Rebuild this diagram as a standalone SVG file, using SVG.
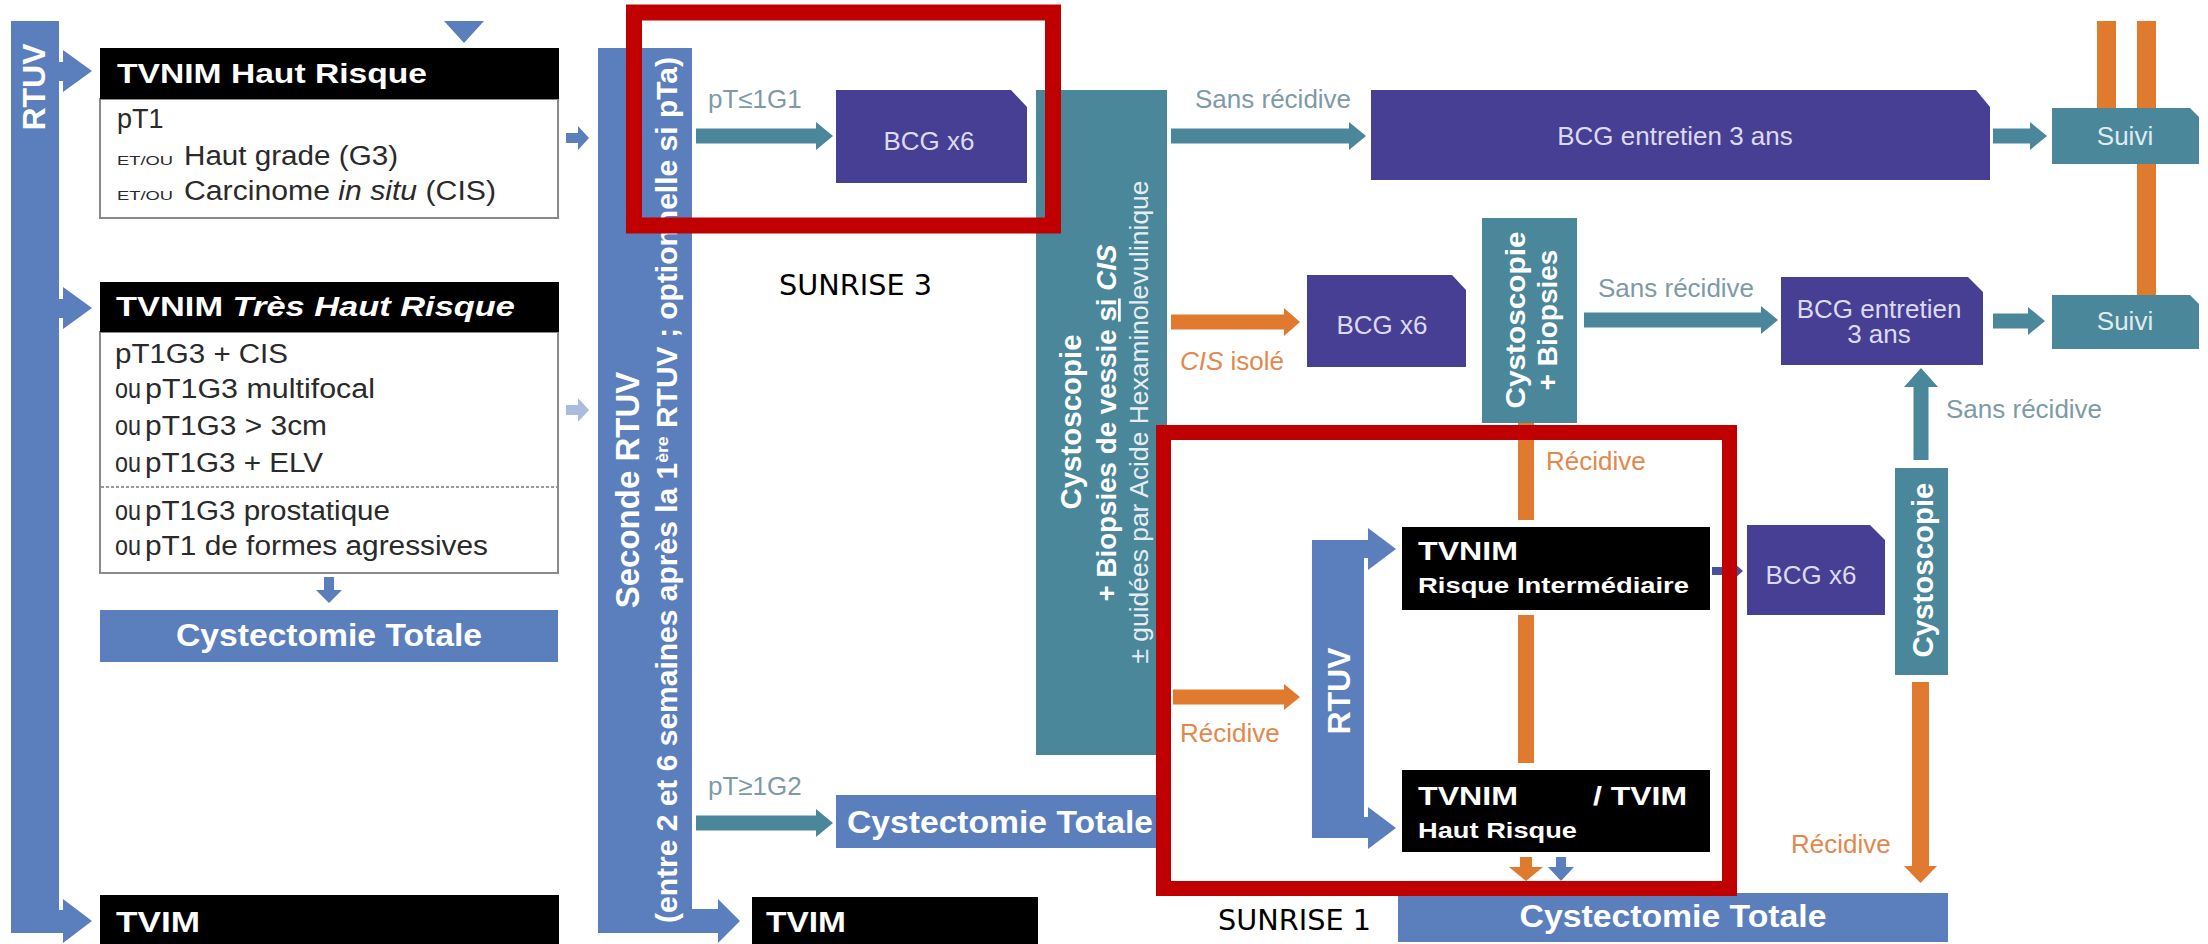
<svg xmlns="http://www.w3.org/2000/svg" width="2208" height="944" viewBox="0 0 2208 944">
<style>
.t{font-family:"Liberation Sans",Arial,sans-serif}
.blue{fill:#5b7fbd}
.lblue{fill:#aabbde}
.teal{fill:#4a879b}
.ind{fill:#463f93}
.org{fill:#df7a2e}
.blk{fill:#000}
.wb{fill:#fff;font-weight:bold}
.lav{fill:#dcd9f2;font-size:26px;text-anchor:middle}
.sv{fill:#dfecef;font-size:26px;text-anchor:middle}
.lbl{fill:#7e9aa6;font-size:26px}
.olbl{fill:#e3884c;font-size:26px}
.body{fill:#2a2a2a;font-size:27px}
.sm{fill:#2a2a2a;font-size:13px}
.frame{fill:#fff;stroke:#8a8a8a;stroke-width:2}
.red{fill:none;stroke:#c00000}
.sun{font-family:"DejaVu Sans","Liberation Sans",sans-serif;font-size:29px;fill:#000}
</style>
<rect width="2208" height="944" fill="#fff"/>

<g id="connectors">
  <path class="blue" d="M444,21 H484 L464,43 Z"/>
  <path class="blue" d="M566,133 H578 V126 L589,138 L578,150 V143 H566 Z"/>
  <path class="lblue" d="M566,405 H578 V398 L589,410 L578,422 V415 H566 Z"/>
  <path class="blue" d="M324,577 V590 H316 L329,603 L342,590 H334 V577 Z"/>
  <path class="teal" d="M696,128.5 H816 V122 L833,136 L816,150 V143.5 H696 Z"/>
  <path class="teal" d="M696,815.5 H816 V809 L833,823 L816,837 V830.5 H696 Z"/>
  <path class="teal" d="M1171,128.5 H1349 V122 L1366,136 L1349,150 V143.5 H1171 Z"/>
  <path class="teal" d="M1993,128.5 H2030 V122 L2047,136 L2030,150 V143.5 H1993 Z"/>
  <path class="teal" d="M1584,312.5 H1761 V306 L1778,320 L1761,334 V327.5 H1584 Z"/>
  <path class="teal" d="M1993,313.5 H2028 V307 L2045,321 L2028,335 V328.5 H1993 Z"/>
  <path class="teal" d="M1913.5,460 V387 H1904 L1921,368 L1938,387 H1928.5 V460 Z"/>
  <path class="org" d="M1171,314.5 H1284 V308 L1300,322 L1284,336 V329.5 H1171 Z"/>
  <path class="org" d="M1173,689.5 H1284 V684 L1300,697 L1284,710 V704.5 H1173 Z"/>
  <path class="org" d="M1912,682 V866 H1904 L1920.5,883 L1937,866 H1929 V682 Z"/>
  <rect class="org" x="1518" y="423" width="16" height="97"/>
  <rect class="org" x="1518" y="615" width="16" height="148"/>
  <rect class="org" x="2097" y="21" width="19" height="87"/>
  <rect class="org" x="2137" y="21" width="19" height="87"/>
  <rect class="org" x="2137" y="164" width="19" height="131"/>
  <path class="org" d="M1520,857 V867 H1509 L1526,881 L1543,867 H1532 V857 Z"/>
  <path class="blue" d="M1556,857 V867 H1548 L1561,881 L1574,867 H1566 V857 Z"/>
  <path fill="#4a50a0" d="M1712,567 H1733 V562 L1743,571 L1733,580 V575 H1712 Z"/>
  <text class="t lbl" x="708" y="108">pT≤1G1</text>
  <text class="t lbl" x="708" y="795">pT≥1G2</text>
  <text class="t lbl" x="1195" y="108">Sans récidive</text>
  <text class="t lbl" x="1598" y="297">Sans récidive</text>
  <text class="t lbl" x="1946" y="418">Sans récidive</text>
  <text class="t olbl" x="1180" y="370"><tspan font-style="italic">CIS</tspan> isolé</text>
  <text class="t olbl" x="1546" y="470">Récidive</text>
  <text class="t olbl" x="1180" y="742">Récidive</text>
  <text class="t olbl" x="1791" y="853">Récidive</text>
</g>

<g id="rtuv-left">
  <path class="blue" d="M11,21 H59 V62 H63 V50 L92,71 L63,92 V81 H59 V299 H63 V287 L92,308 L63,329 V318 H59 V910 H63 V899 L92,921 L63,943 V933 H11 Z"/>
  <text class="t wb" font-size="32" text-anchor="middle" transform="translate(45,87) rotate(-90)">RTUV</text>
</g>

<g id="tvnim-haut-risque">
  <rect class="frame" x="100" y="99" width="458" height="119"/>
  <rect class="blk" x="100" y="48" width="459" height="51"/>
  <text class="t wb" font-size="28" x="117" y="83" textLength="310" lengthAdjust="spacingAndGlyphs">TVNIM Haut Risque</text>
  <text class="t body" x="117" y="128">pT1</text>
  <text class="t sm" x="117" y="165" textLength="56" lengthAdjust="spacingAndGlyphs">ET/OU</text>
  <text class="t body" x="184" y="165" textLength="214" lengthAdjust="spacingAndGlyphs">Haut grade (G3)</text>
  <text class="t sm" x="117" y="200" textLength="56" lengthAdjust="spacingAndGlyphs">ET/OU</text>
  <text class="t body" x="184" y="200" textLength="312" lengthAdjust="spacingAndGlyphs">Carcinome <tspan font-style="italic">in situ</tspan> (CIS)</text>
</g>

<g id="tvnim-tres-haut-risque">
  <rect class="frame" x="100" y="332" width="458" height="241"/>
  <rect class="blk" x="100" y="282" width="459" height="50"/>
  <text class="t wb" font-size="28" x="116" y="316" textLength="399" lengthAdjust="spacingAndGlyphs">TVNIM <tspan font-style="italic">Très Haut Risque</tspan></text>
  <text class="t body" x="115" y="363" textLength="173" lengthAdjust="spacingAndGlyphs">pT1G3 + CIS</text>
  <text class="t body" font-size="17" x="115" y="398" textLength="26" lengthAdjust="spacingAndGlyphs">ou</text>
  <text class="t body" x="145" y="398" textLength="230" lengthAdjust="spacingAndGlyphs">pT1G3 multifocal</text>
  <text class="t body" font-size="17" x="115" y="435" textLength="26" lengthAdjust="spacingAndGlyphs">ou</text>
  <text class="t body" x="145" y="435" textLength="182" lengthAdjust="spacingAndGlyphs">pT1G3 &gt; 3cm</text>
  <text class="t body" font-size="17" x="115" y="472" textLength="26" lengthAdjust="spacingAndGlyphs">ou</text>
  <text class="t body" x="145" y="472" textLength="178" lengthAdjust="spacingAndGlyphs">pT1G3 + ELV</text>
  <line x1="101" y1="487" x2="557" y2="487" stroke="#9a9a9a" stroke-width="2" stroke-dasharray="3 2"/>
  <text class="t body" font-size="17" x="115" y="520" textLength="26" lengthAdjust="spacingAndGlyphs">ou</text>
  <text class="t body" x="145" y="520" textLength="245" lengthAdjust="spacingAndGlyphs">pT1G3 prostatique</text>
  <text class="t body" font-size="17" x="115" y="555" textLength="26" lengthAdjust="spacingAndGlyphs">ou</text>
  <text class="t body" x="145" y="555" textLength="343" lengthAdjust="spacingAndGlyphs">pT1 de formes agressives</text>
</g>

<g id="cystectomie-left">
  <rect class="blue" x="100" y="610" width="458" height="52"/>
  <text class="t wb" font-size="32" x="329" y="646" text-anchor="middle" textLength="306" lengthAdjust="spacingAndGlyphs">Cystectomie Totale</text>
</g>

<g id="tvim-left">
  <rect class="blk" x="100" y="895" width="459" height="55"/>
  <text class="t wb" font-size="29" x="116" y="932" textLength="84" lengthAdjust="spacingAndGlyphs">TVIM</text>
</g>

<g id="seconde-rtuv">
  <path class="blue" d="M598,48 H692 V909 H718 V899 L740,921 L718,943 V933 H598 Z"/>
  <text class="t wb" font-size="33" text-anchor="middle" transform="translate(639,490) rotate(-90)">Seconde RTUV</text>
  <text class="t wb" font-size="29" text-anchor="middle" transform="translate(677,490) rotate(-90)" textLength="866" lengthAdjust="spacingAndGlyphs">(entre 2 et 6 semaines après la 1<tspan font-size="17" baseline-shift="super">ère</tspan> RTUV ; optionnelle si pTa)</text>
</g>

<g id="bcg-x6-a">
  <path class="ind" d="M836,90 H1011 L1027,107 V183 H836 Z"/>
  <text class="t lav" x="929" y="150">BCG x6</text>
</g>

<g id="cystoscopie-biopsies">
  <rect class="teal" x="1036" y="90" width="131" height="665"/>
  <text class="t wb" font-size="30" text-anchor="middle" transform="translate(1081,422) rotate(-90)" textLength="175" lengthAdjust="spacingAndGlyphs">Cystoscopie</text>
  <text class="t wb" font-size="27.5" text-anchor="middle" transform="translate(1116,423) rotate(-90)" textLength="357" lengthAdjust="spacingAndGlyphs">+ Biopsies de vessie <tspan text-decoration="underline">si</tspan> <tspan font-style="italic">CIS</tspan></text>
  <text class="t" fill="#e6eef1" font-size="25" text-anchor="middle" transform="translate(1148,422) rotate(-90)" textLength="483" lengthAdjust="spacingAndGlyphs">± guidées par Acide Hexaminolevulinique</text>
</g>

<g id="cystectomie-mid">
  <rect class="blue" x="836" y="795" width="324" height="53"/>
  <text class="t wb" font-size="32" x="1000" y="833" text-anchor="middle" textLength="306" lengthAdjust="spacingAndGlyphs">Cystectomie Totale</text>
</g>

<g id="tvim-mid">
  <rect class="blk" x="752" y="897" width="286" height="55"/>
  <text class="t wb" font-size="29" x="766" y="932" textLength="80" lengthAdjust="spacingAndGlyphs">TVIM</text>
</g>

<g id="bcg-entretien-a">
  <path class="ind" d="M1371,90 H1976 L1990,107 V180 H1371 Z"/>
  <text class="t lav" x="1675" y="145">BCG entretien 3 ans</text>
</g>

<g id="suivi-a">
  <path class="teal" d="M2052,108 H2190 L2199,117 V164 H2052 Z"/>
  <text class="t sv" x="2125" y="145">Suivi</text>
</g>

<g id="bcg-x6-b">
  <path class="ind" d="M1307,275 H1452 L1466,290 V367 H1307 Z"/>
  <text class="t lav" x="1382" y="334">BCG x6</text>
</g>

<g id="cystoscopie-biopsies-b">
  <rect class="teal" x="1482" y="218" width="95" height="205"/>
  <text class="t wb" font-size="28" text-anchor="middle" transform="translate(1525,320) rotate(-90)" textLength="177" lengthAdjust="spacingAndGlyphs">Cystoscopie</text>
  <text class="t wb" font-size="28" text-anchor="middle" transform="translate(1557,320) rotate(-90)">+ Biopsies</text>
</g>

<g id="bcg-entretien-b">
  <path class="ind" d="M1781,277 H1968 L1983,292 V365 H1781 Z"/>
  <text class="t lav" x="1879" y="318">BCG entretien</text>
  <text class="t lav" x="1879" y="343">3 ans</text>
</g>

<g id="suivi-b">
  <path class="teal" d="M2052,295 H2190 L2199,304 V349 H2052 Z"/>
  <text class="t sv" x="2125" y="330">Suivi</text>
</g>

<g id="cystoscopie-right">
  <rect class="teal" x="1895" y="468" width="53" height="207"/>
  <text class="t wb" font-size="29" text-anchor="middle" transform="translate(1933,570) rotate(-90)" textLength="175" lengthAdjust="spacingAndGlyphs">Cystoscopie</text>
</g>

<g id="bcg-x6-c">
  <path class="ind" d="M1747,525 H1870 L1885,540 V615 H1747 Z"/>
  <text class="t lav" x="1811" y="584">BCG x6</text>
</g>

<g id="rtuv-small">
  <path class="blue" d="M1312,540 H1368 V528 L1396,549 L1368,570 V558 H1364 V817 H1368 V807 L1396,828 L1368,849 V838 H1312 Z"/>
  <text class="t wb" font-size="32" text-anchor="middle" transform="translate(1350,691) rotate(-90)">RTUV</text>
</g>

<g id="tvnim-risque-intermediaire">
  <rect class="blk" x="1402" y="527" width="308" height="83"/>
  <text class="t wb" font-size="25" x="1418" y="560" textLength="100" lengthAdjust="spacingAndGlyphs">TVNIM</text>
  <text class="t wb" font-size="22" x="1418" y="593" textLength="271" lengthAdjust="spacingAndGlyphs">Risque Intermédiaire</text>
</g>

<g id="tvnim-tvim-haut-risque">
  <rect class="blk" x="1402" y="770" width="308" height="82"/>
  <text class="t wb" font-size="25" x="1418" y="805" textLength="100" lengthAdjust="spacingAndGlyphs">TVNIM</text>
  <text class="t wb" font-size="25" x="1593" y="805" textLength="94" lengthAdjust="spacingAndGlyphs">/ TVIM</text>
  <text class="t wb" font-size="22" x="1418" y="838" textLength="159" lengthAdjust="spacingAndGlyphs">Haut Risque</text>
</g>

<g id="cystectomie-bottom">
  <rect class="blue" x="1398" y="893" width="550" height="49"/>
  <text class="t wb" font-size="32" x="1673" y="927" text-anchor="middle" textLength="307" lengthAdjust="spacingAndGlyphs">Cystectomie Totale</text>
</g>

<g id="sunrise-3">
  <rect class="red" x="634" y="12.5" width="419" height="213" stroke-width="16"/>
  <text class="sun" x="779" y="295" textLength="153" lengthAdjust="spacingAndGlyphs">SUNRISE 3</text>
</g>

<g id="sunrise-1">
  <rect class="red" x="1163.5" y="432.5" width="566" height="456" stroke-width="15"/>
  <text class="sun" x="1218" y="930" textLength="153" lengthAdjust="spacingAndGlyphs">SUNRISE 1</text>
</g>
</svg>
